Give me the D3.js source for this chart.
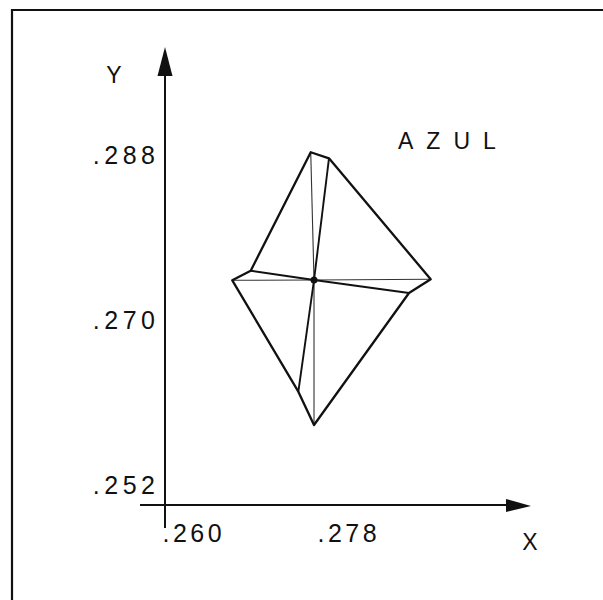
<!DOCTYPE html>
<html>
<head>
<meta charset="utf-8">
<script src="https://cdn.jsdelivr.net/npm/d3@7/dist/d3.min.js"></script>
<style>
  html, body { margin: 0; padding: 0; background: #fff; }
  svg { display: block; }
  text { font-family: "Liberation Sans", Arial, sans-serif; fill: #111; }
</style>
</head>
<body>
<svg id="chart" width="603" height="600"></svg>
<script>
// Chromaticity tolerance figure for the colour "AZUL" (x, y coordinates)
const xTicks = [0.260, 0.278];
const yTicks = [0.252, 0.270, 0.288];
const seriesName = "AZUL";

// Centre colour point
const centre = { x: 0.27742, y: 0.27425 };

// Principal directions from the centre (thin spokes)
const spokes = [
  { id: "A", x: 0.27704, y: 0.28819 },
  { id: "C", x: 0.29097, y: 0.27434 },
  { id: "G", x: 0.27742, y: 0.25844 },
  { id: "D", x: 0.26793, y: 0.27422 }
];

// Diagonal directions from the centre (heavy spokes)
const diagonals = [
  { id: "B", x: 0.27916, y: 0.28753 },
  { id: "F", x: 0.28845, y: 0.27284 },
  { id: "H", x: 0.27560, y: 0.26207 },
  { id: "E", x: 0.27007, y: 0.27527 }
];

// Outline through the spoke ends, in order
const outline = ["A", "B", "C", "F", "G", "H", "D", "E"];

const svg = d3.select("#chart");

const x = d3.scaleLinear().domain([0.260, 0.278]).range([164, 319]);
const y = d3.scaleLinear().domain([0.252, 0.288]).range([484, 154]);

const axisX = 165, axisY = 505;
const fmt = d => d3.format(".3f")(d).replace(/^0/, "");

// Frame
svg.append("path")
  .attr("d", "M12,600 L12,10 L603,10")
  .attr("fill", "none")
  .attr("stroke", "#111")
  .attr("stroke-width", 2.2);

// Axis lines with arrowheads
svg.append("line")
  .attr("x1", axisX).attr("y1", 528).attr("x2", axisX).attr("y2", 60)
  .attr("stroke", "#111").attr("stroke-width", 2);
svg.append("path")
  .attr("d", `M${axisX},47 L${axisX + 7.5},76 L${axisX - 7.5},76 Z`)
  .attr("fill", "#111");

svg.append("line")
  .attr("x1", 140).attr("y1", axisY).attr("x2", 515).attr("y2", axisY)
  .attr("stroke", "#111").attr("stroke-width", 2);
svg.append("path")
  .attr("d", `M531,${axisY + 1} L506,${axisY - 6} L506,${axisY + 7} Z`)
  .attr("fill", "#111");

// Tick labels through D3 axes
const gy = svg.append("g")
  .attr("transform", `translate(${axisX},0)`)
  .call(d3.axisLeft(y).tickValues(yTicks).tickFormat(fmt).tickSize(0).tickPadding(10));
gy.select(".domain").remove();
gy.selectAll("text")
  .attr("font-size", 25)
  .attr("font-family", null)
  .style("letter-spacing", "4.5px")
  .attr("dx", "4.5px")
  .attr("dy", "0.36em");

const gx = svg.append("g")
  .attr("transform", `translate(0,${axisY})`)
  .call(d3.axisBottom(x).tickValues(xTicks).tickFormat(fmt).tickSize(0).tickPadding(19));
gx.select(".domain").remove();
gx.selectAll("text")
  .attr("font-size", 25)
  .attr("font-family", null)
  .attr("text-anchor", "start")
  .attr("dx", "-2px")
  .style("letter-spacing", "3.5px");

// Axis names
svg.append("text").attr("x", 114).attr("y", 83)
  .attr("text-anchor", "middle").attr("font-size", 23).text("Y");
svg.append("text").attr("x", 530).attr("y", 550)
  .attr("text-anchor", "middle").attr("font-size", 23).text("X");

// Series label
svg.append("text").attr("x", 398).attr("y", 149)
  .attr("font-size", 23).style("letter-spacing", "13px").text(seriesName);

// Figure
const byId = {};
spokes.concat(diagonals).forEach(p => { byId[p.id] = p; });

const fig = svg.append("g");

fig.selectAll("line.spoke")
  .data(spokes)
  .join("line")
  .attr("class", "spoke")
  .attr("x1", x(centre.x)).attr("y1", y(centre.y))
  .attr("x2", d => x(d.x)).attr("y2", d => y(d.y))
  .attr("stroke", "#333").attr("stroke-width", 1.1);

fig.selectAll("line.diag")
  .data(diagonals)
  .join("line")
  .attr("class", "diag")
  .attr("x1", x(centre.x)).attr("y1", y(centre.y))
  .attr("x2", d => x(d.x)).attr("y2", d => y(d.y))
  .attr("stroke", "#111").attr("stroke-width", 1.9);

fig.append("path")
  .datum(outline.map(id => byId[id]))
  .attr("d", d3.line().x(d => x(d.x)).y(d => y(d.y)).curve(d3.curveLinearClosed))
  .attr("fill", "none")
  .attr("stroke", "#111")
  .attr("stroke-width", 2.3)
  .attr("stroke-linejoin", "round");

fig.append("circle")
  .attr("cx", x(centre.x)).attr("cy", y(centre.y)).attr("r", 3.5)
  .attr("fill", "#111");
</script>
</body>
</html>
